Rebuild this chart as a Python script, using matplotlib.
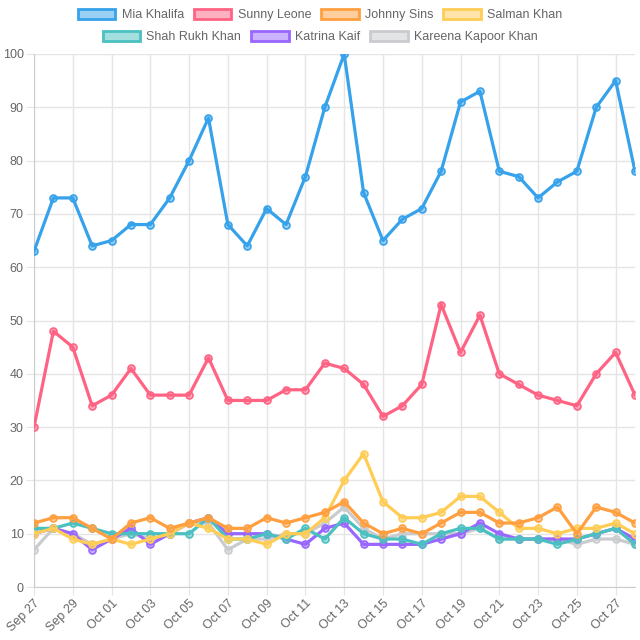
import numpy as np
import pandas as pd
import matplotlib
matplotlib.use("Agg")
import matplotlib.pyplot as plt
from matplotlib.patches import Patch

# daily dates, Sep 27 .. Oct 28
dates = pd.date_range("2023-09-27", "2023-10-28", freq="D")
date_labels = [d.strftime("%b %d") for d in dates]

names = ["Mia Khalifa", "Sunny Leone", "Johnny Sins", "Salman Khan",
         "Shah Rukh Khan", "Katrina Kaif", "Kareena Kapoor Khan"]

mia_khalifa = [63, 73, 73, 64, 65, 68, 68, 73, 80, 88, 68, 64, 71, 68, 77, 90,
               100, 74, 65, 69, 71, 78, 91, 93, 78, 77, 73, 76, 78, 90, 95, 78]
sunny_leone = [30, 48, 45, 34, 36, 41, 36, 36, 36, 43, 35, 35, 35, 37, 37, 42,
               41, 38, 32, 34, 38, 53, 44, 51, 40, 38, 36, 35, 34, 40, 44, 36]
johnny_sins = [12, 13, 13, 11, 9, 12, 13, 11, 12, 13, 11, 11, 13, 12, 13, 14,
               16, 12, 10, 11, 10, 12, 14, 14, 12, 12, 13, 15, 10, 15, 14, 12]
salman_khan = [10, 11, 9, 8, 9, 8, 9, 10, 12, 11, 9, 9, 8, 10, 10, 13,
               20, 25, 16, 13, 13, 14, 17, 17, 14, 11, 11, 10, 11, 11, 12, 10]
shah_rukh_khan = [11, 11, 12, 11, 10, 10, 10, 10, 10, 13, 9, 9, 10, 9, 11, 9,
                  13, 10, 9, 9, 8, 10, 11, 11, 9, 9, 9, 8, 9, 10, 11, 8]
katrina_kaif = [10, 11, 10, 7, 9, 11, 8, 10, 12, 13, 10, 10, 10, 9, 8, 11,
                12, 8, 8, 8, 8, 9, 10, 12, 10, 9, 9, 9, 9, 10, 11, 9]
kareena_kapoor_khan = [7, 11, 10, 8, 9, 10, 9, 10, 12, 12, 7, 9, 9, 10, 10, 12,
                       15, 11, 9, 10, 10, 10, 10, 11, 9, 9, 9, 9, 8, 9, 9, 8]

series = [mia_khalifa, sunny_leone, johnny_sins, salman_khan,
          shah_rukh_khan, katrina_kaif, kareena_kapoor_khan]

colors = [(54, 162, 235), (255, 99, 132), (255, 159, 64), (255, 205, 86),
          (75, 192, 192), (153, 102, 255), (201, 203, 207)]
colors = [tuple(c / 255 for c in col) for col in colors]

plt.rcParams['font.family'] = ['Liberation Sans', 'DejaVu Sans']

fig = plt.figure(figsize=(6.4, 6.4), dpi=100)
ax = fig.add_axes([34 / 640, 53 / 640, 601 / 640, 533 / 640])

x = np.arange(len(dates))
n = len(series)
for i, (name, vals, col) in enumerate(zip(names, series, colors)):
    ax.plot(x, vals, color=col, lw=2.3, marker="o", ms=5,
            markerfacecolor=col + (0.5,), markeredgecolor=col, markeredgewidth=1.2,
            zorder=3 + n - i, solid_joinstyle="round")

ax.set_xlim(0, len(dates) - 1)
ax.set_ylim(0, 100)
ax.set_yticks(range(0, 101, 10))
ax.set_xticks(x[::2])
ax.set_xticklabels(date_labels[::2], rotation=45, ha="right", rotation_mode="anchor")

grid_col = "#e5e5e5"
ax.grid(True, color=grid_col, lw=1)
ax.tick_params(axis="both", colors=grid_col, labelcolor="#666666", labelsize=9,
               length=5.5, pad=2)
for s in ax.spines.values():
    s.set_visible(False)
ax.spines["left"].set_visible(True)
ax.spines["bottom"].set_visible(True)
ax.spines["left"].set_color("#cccccc")
ax.spines["bottom"].set_color("#cccccc")

handles = [Patch(facecolor=c + (0.5,), edgecolor=c, lw=2, label=nm)
           for nm, c in zip(names, colors)]
leg_kw = dict(frameon=False, fontsize=9, handlelength=3.0, handleheight=0.9,
              handletextpad=0.5, columnspacing=0.8, labelcolor="#666666")
fig.legend(handles=handles[:4], ncol=4, loc="center",
           bbox_to_anchor=(0.5, 1 - 15 / 640), **leg_kw)
fig.legend(handles=handles[4:], ncol=3, loc="center",
           bbox_to_anchor=(0.5, 1 - 37 / 640), **leg_kw)

fig.savefig("out.png", dpi=100)
